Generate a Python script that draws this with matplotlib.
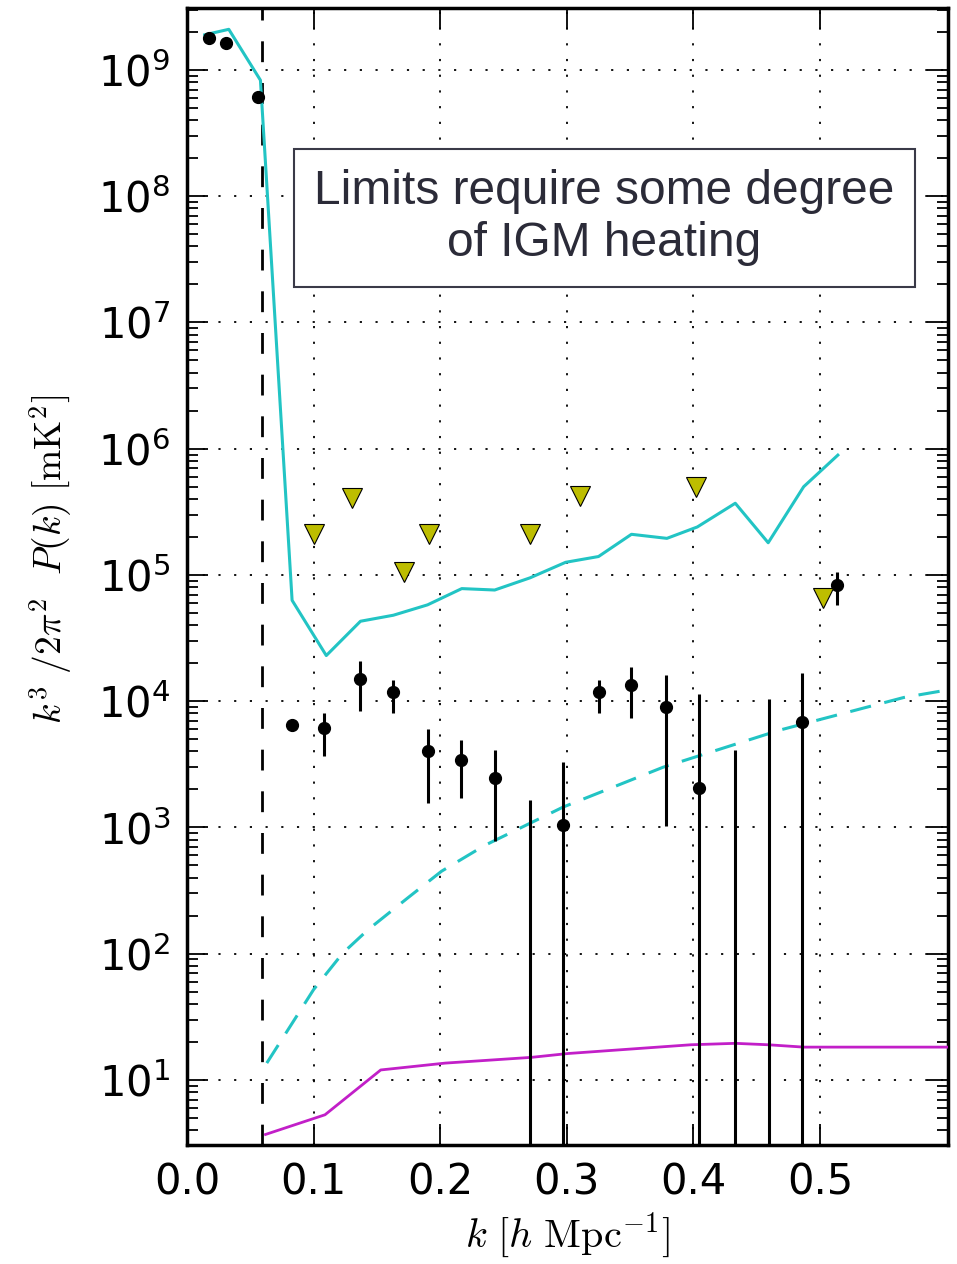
import numpy as np
import matplotlib
matplotlib.use('Agg')
import matplotlib.pyplot as plt

# measured power spectrum points (nan = point below plot range)
k_pts = [0.017, 0.031, 0.056, 0.083, 0.108, 0.137, 0.163, 0.190, 0.216, 0.243,
         0.271, 0.297, 0.325, 0.351, 0.378, 0.404, 0.433, 0.460, 0.486, 0.513]
pk_pts = [1.8e9, 1.65e9, 6.1e8, 6.5e3, 6.1e3, 1.5e4, 1.18e4, 4.0e3, 3.4e3, 2.45e3,
          np.nan, 1.05e3, 1.18e4, 1.35e4, 9.0e3, 2.06e3, np.nan, np.nan, 6.8e3, 8.3e4]
err_hi = [np.nan, np.nan, np.nan, np.nan, 8.1e3, 2.1e4, 1.48e4, 6.0e3, 4.9e3, 4.1e3,
          1.66e3, 3.3e3, 1.48e4, 1.86e4, 1.62e4, 1.15e4, 4.1e3, 1.05e4, 1.66e4, 1.05e5]
err_lo = [np.nan, np.nan, np.nan, np.nan, 3.7e3, 8.3e3, 8.1e3, 1.55e3, 1.7e3, 7.8e2,
          1.0, 1.0, 8.1e3, 7.4e3, 1.02e3, 1.0, 1.0, 1.0, 1.0, 5.8e4]

# upper limits
k_lim = [0.100, 0.130, 0.171, 0.191, 0.271, 0.310, 0.402, 0.502]
pk_lim = [2.1e5, 4.1e5, 1.05e5, 2.1e5, 2.1e5, 4.2e5, 5.0e5, 6.6e4]

# model / noise curves
k_cyan = [0.014, 0.033, 0.058, 0.083, 0.110, 0.137, 0.163, 0.190, 0.217, 0.243,
          0.271, 0.299, 0.325, 0.351, 0.379, 0.403, 0.433, 0.459, 0.487, 0.514]
pk_cyan = [1.9e9, 2.1e9, 8.3e8, 6.3e4, 2.3e4, 4.3e4, 4.8e4, 5.8e4, 7.8e4, 7.6e4,
           9.5e4, 1.26e5, 1.4e5, 2.1e5, 1.95e5, 2.4e5, 3.7e5, 1.8e5, 5.0e5, 8.9e5]

k_noise = [0.063, 0.100, 0.123, 0.143, 0.174, 0.201, 0.235, 0.297, 0.376, 0.468, 0.566, 0.601]
pk_noise = [13.6, 52, 101, 155, 275, 450, 720, 1450, 3000, 5900, 10700, 12300]

k_mag = [0.062, 0.109, 0.153, 0.204, 0.272, 0.301, 0.398, 0.433, 0.459, 0.487, 0.538, 0.603]
pk_mag = [3.7, 5.3, 12.0, 13.6, 15.1, 16.2, 19.0, 19.5, 19.0, 18.2, 18.2, 18.2]

k_horizon = 0.059

if __name__ == '__main__':
    plt.rcParams['font.family'] = 'DejaVu Sans'
    fig = plt.figure(figsize=(9.57, 12.64), dpi=100)
    ax = fig.add_axes([0.1954, 0.0941, 0.7952, 0.8996])
    ax.set_yscale('log')

    cyan = '#22c4c4'
    ax.plot(k_cyan, pk_cyan, color=cyan, lw=2.2, zorder=3)
    ax.plot(k_noise, pk_noise, color=cyan, lw=2.2, linestyle=(0, (7, 4.5)), zorder=3)
    ax.plot(k_mag, pk_mag, color='#c21fc8', lw=2.0, zorder=3)
    ax.axvline(k_horizon, color='black', lw=2.0, linestyle=(0, (7.5, 7.5)), zorder=2)

    ax.vlines(k_pts, err_lo, err_hi, color='black', lw=2.2, zorder=4)
    ax.plot(k_pts, pk_pts, 'o', color='black', ms=8.5, zorder=5)
    ax.plot(k_lim, pk_lim, 'v', color='#bdbd00', mec='black', mew=0.8, ms=15, zorder=5)

    ax.set_xlim(0, 0.601)
    ax.set_ylim(3.05, 3.1e9)
    ax.set_xticks([0.0, 0.1, 0.2, 0.3, 0.4, 0.5])
    ax.set_yticks([10.0 ** p for p in range(1, 10)])

    ax.grid(True, which='major', color='black', linestyle=(0, (1.2, 7.5)), lw=1.3)
    ax.tick_params(which='both', direction='in', top=True, right=True, width=1.3)
    ax.tick_params(which='major', length=15, labelsize=30, pad=12)
    ax.tick_params(which='minor', length=8)
    for sp in ax.spines.values():
        sp.set_linewidth(2.5)

    ax.set_xlabel(r'$k\ [h\ \mathrm{Mpc}^{-1}]$', fontsize=29, math_fontfamily='cm', labelpad=5)
    ax.set_ylabel(r'$k^3\ /2\pi^2\ \ P(k)\ [\mathrm{mK}^2]$', fontsize=27, math_fontfamily='cm')
    ax.yaxis.set_label_coords(-0.148, 0.515)

    ax.text(0.5486, 0.8153, 'Limits require some degree\nof IGM heating', transform=ax.transAxes,
            ha='center', va='center', fontsize=34.5, family='Liberation Sans', color='#2b2b38',
            linespacing=1.2, zorder=6,
            bbox=dict(boxstyle='square,pad=0.42', facecolor='white', edgecolor='#3a3a48', lw=1.5))

    fig.savefig('out.png', dpi=100)
